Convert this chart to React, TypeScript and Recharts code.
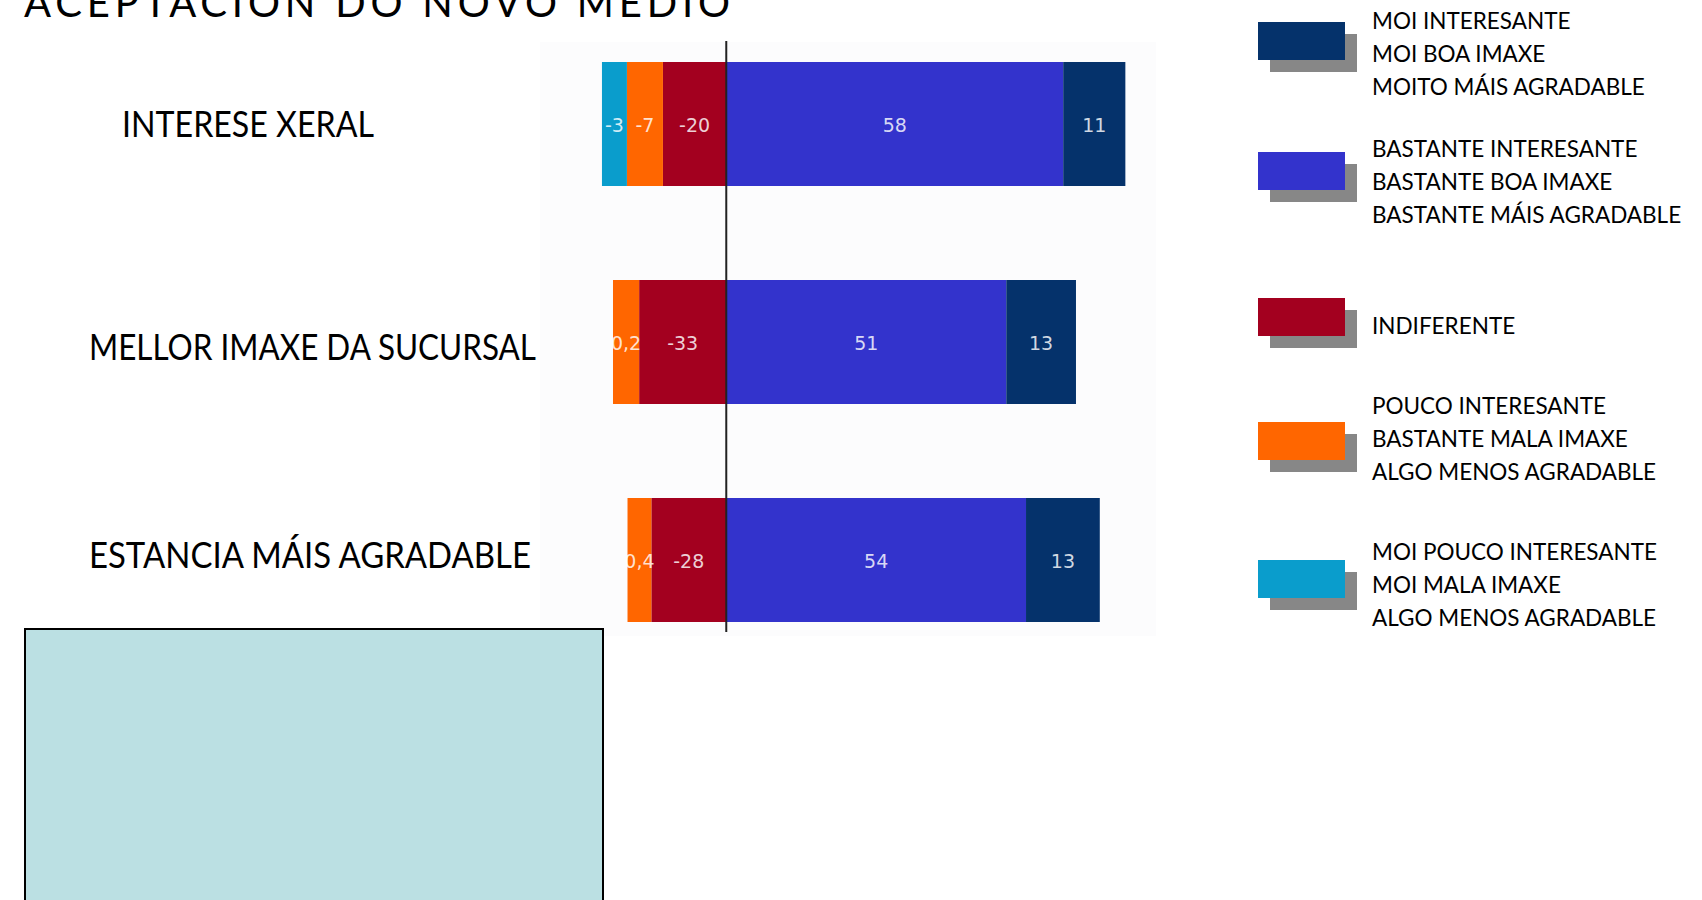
import React from "react";
import { BarChart, Bar, XAxis, YAxis, ReferenceLine, LabelList } from "recharts";

const categories = ["INTERESE XERAL", "MELLOR IMAXE DA SUCURSAL", "ESTANCIA MÁIS AGRADABLE"];

// bar lengths as they are drawn in the picture (left side is drawn shorter than its printed labels)
const indiferente = [-10.9, -15, -12.9];
const pouco = [-6.2, -4.5, -4.1];
const moiPouco = [-4.3, 0, 0];
const bastante = [58, 48.2, 51.6];
const moi = [10.7, 12, 12.7];

// printed labels
const indiferenteLabels = ["-20", "-33", "-28"];
const poucoLabels = ["-7", "0,2", "0,4"];
const moiPoucoLabels = ["-3", "", ""];
const bastanteLabels = ["58", "51", "54"];
const moiLabels = ["11", "13", "13"];

const legendTexts = [
  ["MOI INTERESANTE", "MOI BOA IMAXE", "MOITO MÁIS AGRADABLE"],
  ["BASTANTE INTERESANTE", "BASTANTE BOA IMAXE", "BASTANTE MÁIS AGRADABLE"],
  ["INDIFERENTE"],
  ["POUCO INTERESANTE", "BASTANTE MALA IMAXE", "ALGO MENOS AGRADABLE"],
  ["MOI POUCO INTERESANTE", "MOI MALA IMAXE", "ALGO MENOS AGRADABLE"],
];

const COLORS = {
  moi: "#05326b",
  bastante: "#3333cc",
  indiferente: "#a3001f",
  pouco: "#ff6600",
  moiPouco: "#0a9dcc",
};
const legendColors = [COLORS.moi, COLORS.bastante, COLORS.indiferente, COLORS.pouco, COLORS.moiPouco];
// swatch top / first text line centre for each legend entry
const legendSwatchY = [22, 152, 298, 422, 560];
const legendTextY = [20, 148, 325, 405, 551];

const LABEL_X = [122, 89, 89];
const LABEL_W = [252, 447, 442];
const LABEL_DY = [-2, 3, -7];

const data = categories.map((cat, i) => ({
  cat,
  indiferente: indiferente[i],
  pouco: pouco[i],
  moiPouco: moiPouco[i],
  bastante: bastante[i],
  moi: moi[i],
}));

const makeLabel = (labels: string[]) => (props: any) => {
  const { x, y, width, height, index } = props;
  const txt = labels[index];
  if (!txt) return null;
  return (
    <text
      x={x + width / 2}
      y={y + height / 2 + 1}
      textAnchor="middle"
      dominantBaseline="central"
      fill="#ffffff"
      fillOpacity={0.82}
      fontFamily="DejaVu Sans"
      fontSize={19}
    >
      {txt}
    </text>
  );
};

// category names, placed to the left of the bars
const catLabel = (props: any) => {
  const { y, height, index } = props;
  return (
    <text
      x={LABEL_X[index]}
      y={y + height / 2 + LABEL_DY[index]}
      dominantBaseline="central"
      fontFamily="Lato"
      fontSize={37}
      fill="#000"
      textLength={LABEL_W[index]}
      lengthAdjust="spacingAndGlyphs"
    >
      {categories[index]}
    </text>
  );
};

export default function App() {
  return (
    <div style={{ position: "relative", width: 1702, height: 900, overflow: "hidden", background: "#fff" }}>
      <style>{`body{margin:0}`}</style>
      <div style={{ position: "absolute", left: 540, top: 42, width: 616, height: 594, background: "#fcfcfd" }} />
      <div
        style={{
          position: "absolute",
          left: 24,
          top: 628,
          width: 576,
          height: 300,
          background: "#bbe0e3",
          border: "2px solid #000",
        }}
      />
      <div style={{ position: "absolute", left: 0, top: 0 }}>
        <BarChart
          width={1702}
          height={900}
          layout="vertical"
          data={data}
          stackOffset="sign"
          margin={{ top: 41, bottom: 268, left: 552, right: 511 }}
          barCategoryGap={0}
        >
          <XAxis type="number" domain={[-30, 80]} hide allowDataOverflow />
          <YAxis type="category" dataKey="cat" width={0} hide padding={{ top: -26, bottom: -37 }} />
          <Bar dataKey="indiferente" stackId="a" fill={COLORS.indiferente} barSize={124} isAnimationActive={false}>
            <LabelList content={makeLabel(indiferenteLabels)} />
            <LabelList dataKey="cat" content={catLabel} />
          </Bar>
          <Bar dataKey="pouco" stackId="a" fill={COLORS.pouco} barSize={124} isAnimationActive={false}>
            <LabelList content={makeLabel(poucoLabels)} />
          </Bar>
          <Bar dataKey="moiPouco" stackId="a" fill={COLORS.moiPouco} barSize={124} isAnimationActive={false}>
            <LabelList content={makeLabel(moiPoucoLabels)} />
          </Bar>
          <Bar dataKey="bastante" stackId="a" fill={COLORS.bastante} barSize={124} isAnimationActive={false}>
            <LabelList content={makeLabel(bastanteLabels)} />
          </Bar>
          <Bar dataKey="moi" stackId="a" fill={COLORS.moi} barSize={124} isAnimationActive={false}>
            <LabelList content={makeLabel(moiLabels)} />
          </Bar>
          <ReferenceLine x={0} stroke="#222" strokeWidth={2} />
        </BarChart>
      </div>
      <svg width={1702} height={900} style={{ position: "absolute", left: 0, top: 0, pointerEvents: "none" }}>
        <text
          x={24}
          y={17}
          fontFamily="Lato"
          fontSize={40}
          fill="#000"
          textLength={706}
          lengthAdjust="spacing"
        >
          ACEPTACIÓN DO NOVO MEDIO
        </text>
        {legendTexts.map((lines, i) => (
          <g key={i}>
            <rect x={1270} y={legendSwatchY[i] + 12} width={87} height={38} fill="#878787" />
            <rect x={1258} y={legendSwatchY[i]} width={87} height={38} fill={legendColors[i]} />
            {lines.map((ln, j) => (
              <text
                key={j}
                x={1372}
                y={legendTextY[i] + j * 33}
                dominantBaseline="central"
                fontFamily="Lato"
                fontSize={22.5}
                fill="#000"
              >
                {ln}
              </text>
            ))}
          </g>
        ))}
      </svg>
    </div>
  );
}
